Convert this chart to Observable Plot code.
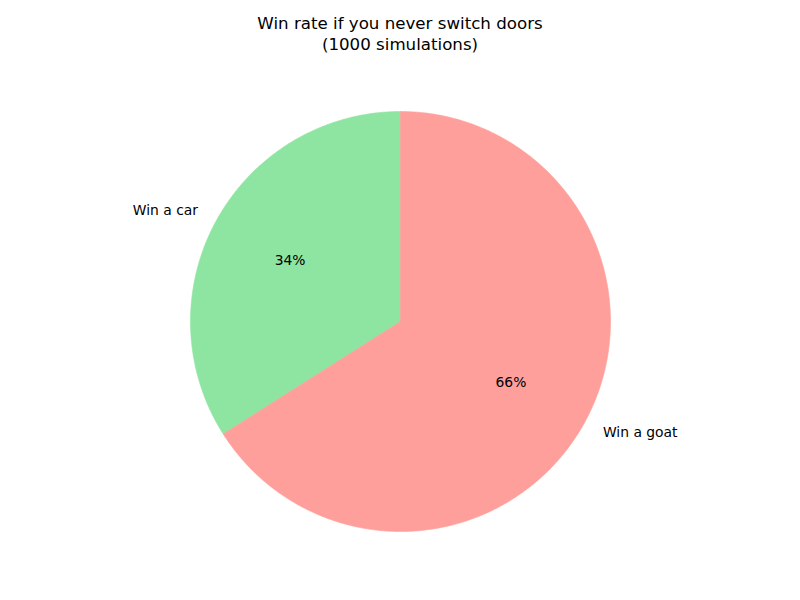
<!DOCTYPE html>
<html>
<head>
<meta charset="utf-8">
<script src="https://cdn.jsdelivr.net/npm/d3@7"></script>
<script src="https://cdn.jsdelivr.net/npm/@observablehq/plot@0.6"></script>
<style>
  html, body { margin: 0; padding: 0; background: #fff; }
  #wrap { width: 800px; height: 600px; position: relative; font-family: "DejaVu Sans", sans-serif; }
  #title { height: 60px; box-sizing: border-box; padding-top: 12.5px; text-align: center; font-size: 16.67px; line-height: 21px; color: #000; }
  svg { display: block; }
</style>
</head>
<body>
<div id="wrap">
  <div id="title">Win rate if you never switch doors<br>(1000 simulations)</div>
  <div id="chart"></div>
</div>
<script>
const labels = ["Win a car", "Win a goat"];
const shares = [34, 66];           // percent of 1000 simulations
const colors = ["#8de5a1", "#ff9f9b"];
const startAngle = 90;             // degrees, counter-clockwise

const W = 800, H = 540, R = 210, cx = 400, cy = 261;

// wedge outlines in unit-radius coordinates
const total = d3.sum(shares);
const wedges = [];
const labelRows = [];
let a = startAngle;
shares.forEach((s, i) => {
  const span = s / total * 360;
  const a0 = a, a1 = a + span;
  wedges.push({label: labels[i], x: 0, y: 0});
  const n = Math.ceil(span * 2);
  for (let k = 0; k <= n; k++) {
    const t = (a0 + (a1 - a0) * k / n) * Math.PI / 180;
    wedges.push({label: labels[i], x: Math.cos(t), y: Math.sin(t)});
  }
  wedges.push({label: labels[i], x: 0, y: 0});
  const mid = (a0 + a1) / 2 * Math.PI / 180;
  labelRows.push({
    label: labels[i],
    pct: Math.round(s / total * 100) + "%",
    lx: 1.1 * Math.cos(mid), ly: 1.1 * Math.sin(mid),
    px: 0.6 * Math.cos(mid), py: 0.6 * Math.sin(mid),
    anchor: Math.cos(mid) < 0 ? "end" : "start"
  });
  a = a1;
});

const chart = Plot.plot({
  width: W, height: H,
  margin: 0,
  x: {domain: [-cx / R, (W - cx) / R], axis: null},
  y: {domain: [-(H - cy) / R, cy / R], axis: null},
  color: {domain: labels, range: colors},
  style: {fontFamily: "DejaVu Sans, sans-serif", fontSize: "13.89px"},
  marks: [
    Plot.line(wedges, {x: "x", y: "y", z: "label", fill: "label", stroke: "label", strokeWidth: 0.6, curve: "linear"}),
    Plot.text(labelRows, {x: "px", y: "py", text: "pct", fill: "#000", fontSize: 13.89}),
    Plot.text(labelRows.filter(d => d.anchor === "end"), {x: "lx", y: "ly", text: "label", textAnchor: "end", fill: "#000", fontSize: 13.89}),
    Plot.text(labelRows.filter(d => d.anchor === "start"), {x: "lx", y: "ly", text: "label", textAnchor: "start", fill: "#000", fontSize: 13.89})
  ]
});
document.getElementById("chart").appendChild(chart);
</script>
</body>
</html>
